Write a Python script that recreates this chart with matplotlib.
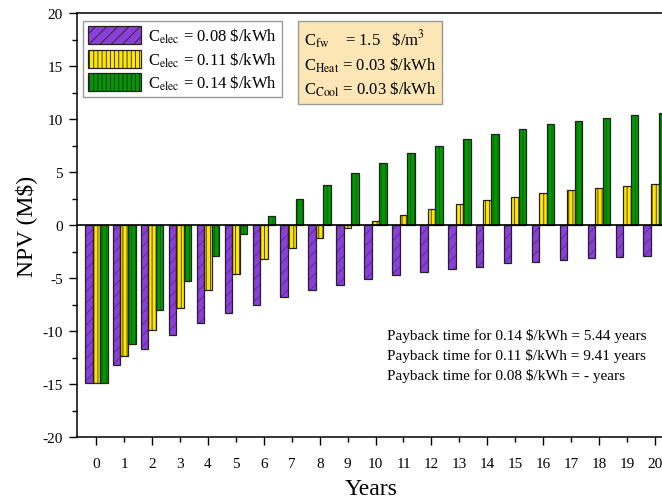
import numpy as np
import matplotlib
matplotlib.use('Agg')
from matplotlib import pyplot as plt
from matplotlib.patches import Patch

plt.rcParams['font.family'] = 'Liberation Serif'
plt.rcParams['mathtext.fontset'] = 'stix'
plt.rcParams['hatch.linewidth'] = 0.6
plt.rcParams['axes.unicode_minus'] = False

years = list(range(21))
npv_008 = [-14.9, -13.2, -11.7, -10.4, -9.2, -8.3, -7.5, -6.8, -6.1, -5.6, -5.1,
           -4.7, -4.4, -4.1, -3.9, -3.6, -3.5, -3.3, -3.1, -3.0, -2.9]
npv_011 = [-14.9, -12.3, -9.9, -7.8, -6.1, -4.6, -3.2, -2.2, -1.2, -0.3, 0.4,
           1.0, 1.5, 2.0, 2.4, 2.7, 3.0, 3.3, 3.5, 3.7, 3.9]
npv_014 = [-14.9, -11.2, -8.0, -5.3, -2.9, -0.8, 0.9, 2.5, 3.8, 4.9, 5.9,
           6.8, 7.5, 8.1, 8.6, 9.1, 9.5, 9.8, 10.1, 10.4, 10.6]

labels = [r'C$_{\rm elec}$ = 0.08 \$/kWh', r'C$_{\rm elec}$ = 0.11 \$/kWh', r'C$_{\rm elec}$ = 0.14 \$/kWh']
colors = ['#8b3fd9', '#ffe600', '#009a00']
hatch_colors = ['#5a2596', '#3a3000', '#006000']
hatches = ['///', '||||', '||||']

fig = plt.figure(figsize=(6.62, 5.02), dpi=100)
ax = fig.add_axes([0.116, 0.127, 0.89, 0.845])

x = np.array(years)
w = 0.27
series = [npv_008, npv_011, npv_014]
handles = []
for i, vals in enumerate(series):
    pos = x + (i - 1) * w
    ax.bar(pos, vals, w, color=colors[i], edgecolor=hatch_colors[i], hatch=hatches[i], linewidth=0, zorder=2)
    ax.bar(pos, vals, w, fill=False, edgecolor='#222222', linewidth=0.9, zorder=3)
    handles.append(Patch(facecolor=colors[i], edgecolor='#222222', hatch=hatches[i], linewidth=0.9, label=labels[i]))

ax.axhline(0, color='black', linewidth=1.2, zorder=4)

ax.set_xlim(-0.7, 20.4)
ax.set_ylim(-20, 20)
ax.set_xticks(range(0, 21, 2))
ax.set_xticks(range(1, 21, 2), minor=True)
ax.set_xticklabels([str(v) for v in range(0, 21, 2)])
ax.set_xticklabels([str(v) for v in range(1, 21, 2)], minor=True)
ax.set_yticks(range(-20, 21, 5))
ax.set_yticks(np.arange(-17.5, 20, 5), minor=True)
ax.tick_params(axis='y', which='major', direction='out', length=6, width=1, labelsize=11, pad=4)
ax.tick_params(axis='y', which='minor', direction='out', length=3.5, width=1)
ax.tick_params(axis='x', which='major', direction='out', length=6, width=1, labelsize=11, pad=8)
ax.tick_params(axis='x', which='minor', direction='out', length=3.5, width=1, labelsize=11, pad=10.5)
for s in ax.spines.values():
    s.set_linewidth(1.1)

ax.set_ylabel('NPV (M$)', fontsize=17)
ax.set_xlabel('Years', fontsize=17, labelpad=6)

leg = ax.legend(handles=handles, loc='upper left', bbox_to_anchor=(0.005, 0.99), fontsize=12,
                fancybox=False, framealpha=1, edgecolor='#999999', handlelength=3.2, handleheight=1.3,
                borderpad=0.3, labelspacing=0.25, handletextpad=0.4, borderaxespad=0.2)

ax.text(0.385, 0.965, 'C$_{\\rm fw}$    = 1.5   \\$/m$^3$\nC$_{\\rm Heat}$ = 0.03 \\$/kWh\nC$_{\\rm Cool}$ = 0.03 \\$/kWh',
        transform=ax.transAxes, fontsize=12, va='top', ha='left', linespacing=1.3,
        bbox=dict(boxstyle='square,pad=0.35', facecolor='#fce6b5', edgecolor='#999999'))

ax.text(0.527, 0.258, 'Payback time for 0.14 \\$/kWh = 5.44 years\nPayback time for 0.11 \\$/kWh = 9.41 years\nPayback time for 0.08 \\$/kWh = - years',
        transform=ax.transAxes, fontsize=11, va='top', ha='left', linespacing=1.55)

fig.savefig('out.png', dpi=100)
